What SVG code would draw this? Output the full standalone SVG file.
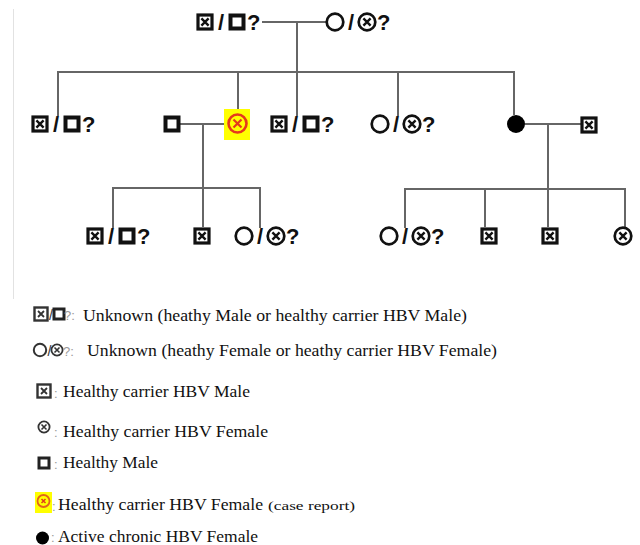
<svg xmlns="http://www.w3.org/2000/svg" xmlns:xlink="http://www.w3.org/1999/xlink" width="640" height="545" viewBox="0 0 640 545">
<style>
.ln{stroke:#666;stroke-width:2;fill:none}
.sym{fill:#fff;stroke:#111}
.sl{font-family:"Liberation Sans",Arial,sans-serif;font-weight:bold;font-size:22px;fill:#111}
.lg{font-family:"Liberation Serif","Times New Roman",serif;font-size:16.5px;fill:#111}
.lgs{font-family:"Liberation Serif","Times New Roman",serif;font-size:13.5px;fill:#111}
.ls{font-family:"Liberation Sans",Arial,sans-serif;font-size:14px;fill:#333}
.gq{font-family:"Liberation Sans",Arial,sans-serif;font-size:13px;fill:#999}
</style>
<defs>
<g id="mx"><rect x="-7" y="-7" width="14" height="14" class="sym" stroke-width="3.2"/><path d="M-3.6,-3.6L3.6,3.6M3.6,-3.6L-3.6,3.6" stroke="#111" stroke-width="2.4"/></g>
<g id="mh"><rect x="-6.5" y="-6.5" width="13" height="13" class="sym" stroke-width="4"/></g>
<g id="fc"><circle r="8.3" class="sym" stroke-width="2.7"/></g>
<g id="fx"><circle r="8.3" class="sym" stroke-width="2.7"/><path d="M-3.6,-3.6L3.6,3.6M3.6,-3.6L-3.6,3.6" stroke="#111" stroke-width="2.4"/></g>
<g id="fd"><circle r="9" fill="#000"/></g>
<g id="lmx"><rect x="-6.5" y="-6.5" width="13" height="13" fill="#fff" stroke="#333" stroke-width="2.4"/><path d="M-3,-3L3,3M3,-3L-3,3" stroke="#333" stroke-width="1.8"/></g>
<g id="lmh"><rect x="-5" y="-5" width="10" height="10" fill="#fff" stroke="#222" stroke-width="3"/></g>
<g id="lfc"><circle r="6.2" fill="#fff" stroke="#333" stroke-width="2"/></g>
<g id="lfx"><circle r="5.6" fill="#fff" stroke="#333" stroke-width="1.8"/><path d="M-2.5,-2.5L2.5,2.5M2.5,-2.5L-2.5,2.5" stroke="#333" stroke-width="1.6"/></g>
</defs>
<rect width="640" height="545" fill="#fff"/>
<line x1="13.5" y1="9" x2="13.5" y2="299" stroke="#e2e2e2" stroke-width="1"/>

<g id="connectors">
<path class="ln" d="M262,22H327"/>
<path class="ln" d="M297,22V116"/>
<path class="ln" d="M58,116V72H514V115"/>
<path class="ln" d="M238,72V114"/>
<path class="ln" d="M398,72V116"/>
<path class="ln" d="M180,124H229"/>
<path class="ln" d="M203,124V227"/>
<path class="ln" d="M113,228V188H260V228"/>
<path class="ln" d="M525,124H581"/>
<path class="ln" d="M548,124V227"/>
<path class="ln" d="M405,228V189H625V227"/>
<path class="ln" d="M485,189V227"/>
</g>

<g id="gp-male"><use xlink:href="#mx" x="205" y="22"/><text class="sl" x="221" y="30" text-anchor="middle">/</text><use xlink:href="#mh" x="237" y="22"/><text class="sl" x="247" y="30">?</text></g>
<g id="gp-female"><use xlink:href="#fc" x="335" y="22"/><text class="sl" x="351" y="30" text-anchor="middle">/</text><use xlink:href="#fx" x="367" y="22"/><text class="sl" x="377" y="30">?</text></g>

<g id="c1"><use xlink:href="#mx" x="40" y="124"/><text class="sl" x="56" y="132" text-anchor="middle">/</text><use xlink:href="#mh" x="72" y="124"/><text class="sl" x="82" y="132">?</text></g>
<g id="c2-husband"><use xlink:href="#mh" x="172" y="124"/></g>
<g id="c2-case"><rect x="224" y="109" width="26" height="31" fill="#ffff00"/><circle cx="237.5" cy="123.5" r="9" fill="none" stroke="#e5391c" stroke-width="2.6"/><path d="M233.5,119.5L241.5,127.5M241.5,119.5L233.5,127.5" stroke="#e5391c" stroke-width="2.2"/></g>
<g id="c3"><use xlink:href="#mx" x="279" y="124"/><text class="sl" x="295" y="132" text-anchor="middle">/</text><use xlink:href="#mh" x="311" y="124"/><text class="sl" x="321" y="132">?</text></g>
<g id="c4"><use xlink:href="#fc" x="380" y="124"/><text class="sl" x="396" y="132" text-anchor="middle">/</text><use xlink:href="#fx" x="412" y="124"/><text class="sl" x="422" y="132">?</text></g>
<g id="c5-active"><use xlink:href="#fd" x="516" y="124"/></g>
<g id="c5-husband"><use xlink:href="#mx" x="589" y="125"/></g>

<g id="g1"><use xlink:href="#mx" x="95" y="236"/><text class="sl" x="111" y="244" text-anchor="middle">/</text><use xlink:href="#mh" x="127" y="236"/><text class="sl" x="137" y="244">?</text></g>
<g id="g2"><use xlink:href="#mx" x="202" y="236"/></g>
<g id="g3"><use xlink:href="#fc" x="244" y="236"/><text class="sl" x="260" y="244" text-anchor="middle">/</text><use xlink:href="#fx" x="276" y="236"/><text class="sl" x="286" y="244">?</text></g>
<g id="g4"><use xlink:href="#fc" x="389" y="236"/><text class="sl" x="405" y="244" text-anchor="middle">/</text><use xlink:href="#fx" x="421" y="236"/><text class="sl" x="431" y="244">?</text></g>
<g id="g5"><use xlink:href="#mx" x="489" y="236"/></g>
<g id="g6"><use xlink:href="#mx" x="550" y="236"/></g>
<g id="g7"><use xlink:href="#fx" x="623" y="236"/></g>

<g id="legend">
<g id="lg1"><use xlink:href="#lmx" x="41" y="314"/><text class="ls" x="51" y="320" text-anchor="middle">/</text><use xlink:href="#lmh" x="59" y="314"/><text class="gq" x="64" y="320">?:</text><text class="lg" x="83" y="321" textLength="384" lengthAdjust="spacingAndGlyphs">Unknown (heathy Male or healthy carrier HBV Male)</text></g>
<g id="lg2"><use xlink:href="#lfc" x="40" y="350"/><text class="ls" x="49.5" y="356" text-anchor="middle">/</text><use xlink:href="#lfx" x="57" y="350"/><text class="gq" x="63" y="356">?:</text><text class="lg" x="87" y="356" textLength="410" lengthAdjust="spacingAndGlyphs">Unknown (heathy Female or heathy carrier HBV Female)</text></g>
<g id="lg3"><use xlink:href="#lmx" x="44" y="391"/><text class="gq" x="54" y="398">:</text><text class="lg" x="63" y="397" textLength="187" lengthAdjust="spacingAndGlyphs">Healthy carrier HBV Male</text></g>
<g id="lg4"><use xlink:href="#lfx" x="44" y="427"/><text class="gq" x="54" y="437">:</text><text class="lg" x="63" y="437" textLength="205" lengthAdjust="spacingAndGlyphs">Healthy carrier HBV Female</text></g>
<g id="lg5"><use xlink:href="#lmh" x="44" y="463"/><text class="gq" x="54" y="469">:</text><text class="lg" x="63" y="468" textLength="95" lengthAdjust="spacingAndGlyphs">Healthy Male</text></g>
<g id="lg6"><rect x="35" y="492" width="17" height="21" fill="#ffff00"/><circle cx="43.5" cy="501" r="6" fill="none" stroke="#e0641c" stroke-width="1.8"/><path d="M41.5,499L45.5,503M45.5,499L41.5,503" stroke="#e0391c" stroke-width="1.5"/><text class="gq" x="52" y="511">:</text><text class="lg" x="58" y="510" textLength="205" lengthAdjust="spacingAndGlyphs">Healthy carrier HBV Female</text><text class="lgs" x="268" y="510" textLength="87" lengthAdjust="spacingAndGlyphs">(case report)</text></g>
<g id="lg7"><circle cx="42.5" cy="538" r="6.5" fill="#000"/><text class="gq" x="51" y="542">:</text><text class="lg" x="58" y="542" textLength="200" lengthAdjust="spacingAndGlyphs">Active chronic HBV Female</text></g>
</g>
</svg>
